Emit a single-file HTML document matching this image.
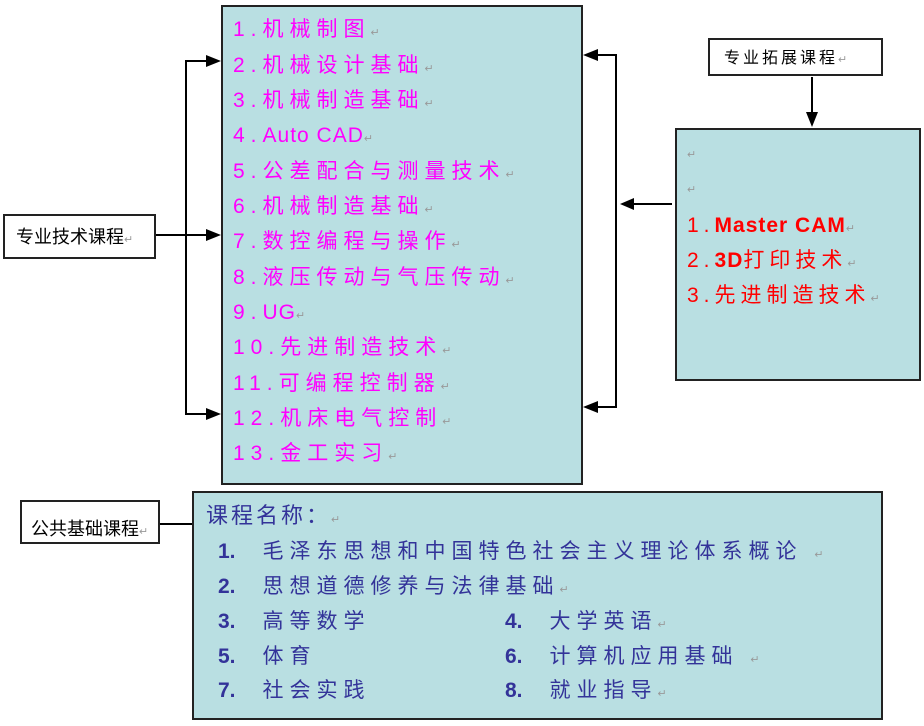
<!DOCTYPE html>
<html><head><meta charset="utf-8"><style>
body{margin:0;width:924px;height:726px;background:#fff;position:relative;overflow:hidden;font-family:"Liberation Sans","Noto Sans CJK SC",sans-serif}
.b{position:absolute;box-sizing:border-box;border:2px solid #222}
.t{position:absolute;white-space:nowrap;line-height:1}
.m{color:#ff00ff;font-size:21px;letter-spacing:6px}
.m .l{letter-spacing:1px}
.r{color:#ff0000;font-size:21px;letter-spacing:5px}
.r .l{letter-spacing:1px;font-weight:bold}
.n{color:#333399;font-size:21px;letter-spacing:6px}
.n .d{font-weight:bold;letter-spacing:0}
.p{color:#999;font-size:11px;letter-spacing:0;font-weight:normal}
</style></head><body>
<div class="b" style="left:221px;top:5px;width:362px;height:480px;background:#b9dfe2"></div>
<div class="b" style="left:675px;top:128px;width:246px;height:253px;background:#b9dfe2"></div>
<div class="b" style="left:192px;top:491px;width:691px;height:229px;background:#b9dfe2"></div>
<div class="b" style="left:3px;top:214px;width:153px;height:45px;background:#fff"></div>
<div class="b" style="left:708px;top:38px;width:175px;height:38px;background:#fff"></div>
<div class="b" style="left:20px;top:500px;width:140px;height:44px;background:#fff"></div>
<svg width="924" height="726" style="position:absolute;left:0;top:0">
<g stroke="#000" stroke-width="2" fill="none">
<polyline points="206,61 186,61 186,414 206,414"/>
<line x1="156" y1="235" x2="206" y2="235"/>
<polyline points="597,55 616,55 616,407 597,407"/>
<line x1="672" y1="204" x2="634" y2="204"/>
<line x1="812" y1="77" x2="812" y2="112"/>
<line x1="160" y1="524" x2="192" y2="524"/>
</g>
<g fill="#000">
<polygon points="221,61 206,55 206,67"/>
<polygon points="221,235 206,229 206,241"/>
<polygon points="221,414 206,408 206,420"/>
<polygon points="583,55 598,49 598,61"/>
<polygon points="583,407 598,401 598,413"/>
<polygon points="620,204 634,198 634,210"/>
<polygon points="812,127 806,112 818,112"/>
</g>
</svg>
<div class="t" style="left:16px;top:228px;font-size:18px">专业技术课程<span class="p">↵</span></div>
<div class="t" style="left:724px;top:51px;font-size:16px;letter-spacing:3px">专业拓展课程<span class="p">↵</span></div>
<div class="t" style="left:31px;top:520px;font-size:18px">公共基础课程<span class="p">↵</span></div>

<div class="t m" style="left:233px;top:19px">1.机械制图<span class="p">↵</span></div>
<div class="t m" style="left:233px;top:55px">2.机械设计基础<span class="p">↵</span></div>
<div class="t m" style="left:233px;top:90px">3.机械制造基础<span class="p">↵</span></div>
<div class="t m" style="left:233px;top:125px">4.<span class="l">Auto CAD</span><span class="p">↵</span></div>
<div class="t m" style="left:233px;top:161px">5.公差配合与测量技术<span class="p">↵</span></div>
<div class="t m" style="left:233px;top:196px">6.机械制造基础<span class="p">↵</span></div>
<div class="t m" style="left:233px;top:231px">7.数控编程与操作<span class="p">↵</span></div>
<div class="t m" style="left:233px;top:267px">8.液压传动与气压传动<span class="p">↵</span></div>
<div class="t m" style="left:233px;top:302px">9.<span class="l">UG</span><span class="p">↵</span></div>
<div class="t m" style="left:233px;top:337px">10.先进制造技术<span class="p">↵</span></div>
<div class="t m" style="left:233px;top:373px">11.可编程控制器<span class="p">↵</span></div>
<div class="t m" style="left:233px;top:408px">12.机床电气控制<span class="p">↵</span></div>
<div class="t m" style="left:233px;top:443px">13.金工实习<span class="p">↵</span></div>

<div class="t p" style="left:687px;top:150px">↵</div>
<div class="t p" style="left:687px;top:185px">↵</div>
<div class="t r" style="left:687px;top:215px">1.<span class="l">Master CAM</span><span class="p">↵</span></div>
<div class="t r" style="left:687px;top:250px">2.<span class="l">3D</span>打印技术<span class="p">↵</span></div>
<div class="t r" style="left:687px;top:285px">3.先进制造技术<span class="p">↵</span></div>

<div class="t n" style="left:206px;top:505px;font-size:22px;letter-spacing:3px">课程名称：<span class="p">↵</span></div>
<div class="t n" style="left:218px;top:541px"><span class="d">1.</span>　毛泽东思想和中国特色社会主义理论体系概论 <span class="p">↵</span></div>
<div class="t n" style="left:218px;top:576px"><span class="d">2.</span>　思想道德修养与法律基础<span class="p">↵</span></div>
<div class="t n" style="left:218px;top:611px"><span class="d">3.</span>　高等数学</div>
<div class="t n" style="left:218px;top:646px"><span class="d">5.</span>　体育</div>
<div class="t n" style="left:218px;top:680px"><span class="d">7.</span>　社会实践</div>
<div class="t n" style="left:505px;top:611px"><span class="d">4.</span>　大学英语<span class="p">↵</span></div>
<div class="t n" style="left:505px;top:646px"><span class="d">6.</span>　计算机应用基础 <span class="p">↵</span></div>
<div class="t n" style="left:505px;top:680px"><span class="d">8.</span>　就业指导<span class="p">↵</span></div>
</body></html>
